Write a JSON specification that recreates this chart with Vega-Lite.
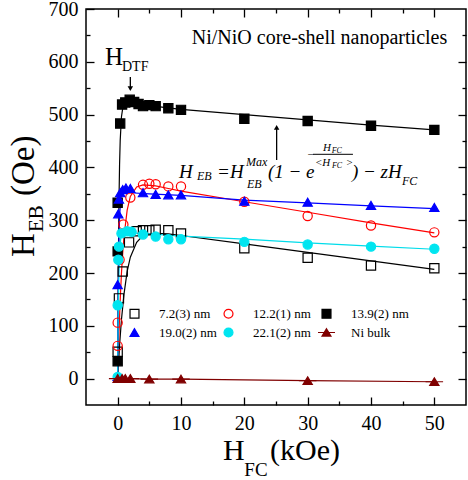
{
  "$schema": "https://vega.github.io/schema/vega-lite/v6.json",
  "width": 380,
  "height": 396,
  "autosize": {"type": "none"},
  "padding": {"left": 86, "top": 9, "right": 2, "bottom": 75},
  "background": "white",
  "config": {
    "view": {"stroke": "black", "strokeWidth": 1.5},
    "font": "Liberation Serif",
    "axis": {"domain": false, "grid": false, "labelFont": "Liberation Serif", "labelFontSize": 20, "labelColor": "black", "tickColor": "black", "tickWidth": 1.3},
    "legend": {"orient": "none", "legendX": 42, "legendY": 298, "direction": "horizontal", "columns": 3, "gridAlign": "each", "symbolSize": 80, "symbolStrokeWidth": 1.2, "labelFont": "Liberation Serif", "labelFontSize": 13, "labelColor": "black", "labelOffset": 18, "columnPadding": 4, "rowPadding": 4, "padding": 0}
  },
  "datasets": {
    "pts": [
      {"series": "7.2(3) nm", "x": 0, "y": 51}, {"series": "7.2(3) nm", "x": 0.2, "y": 152}, {"series": "7.2(3) nm", "x": 0.8, "y": 203}, {"series": "7.2(3) nm", "x": 1.8, "y": 258}, {"series": "7.2(3) nm", "x": 3, "y": 279}, {"series": "7.2(3) nm", "x": 4, "y": 281}, {"series": "7.2(3) nm", "x": 5, "y": 281}, {"series": "7.2(3) nm", "x": 6, "y": 282}, {"series": "7.2(3) nm", "x": 8, "y": 281}, {"series": "7.2(3) nm", "x": 10, "y": 275}, {"series": "7.2(3) nm", "x": 20, "y": 247}, {"series": "7.2(3) nm", "x": 30, "y": 229}, {"series": "7.2(3) nm", "x": 40, "y": 214}, {"series": "7.2(3) nm", "x": 50, "y": 209},
      {"series": "12.2(1) nm", "x": 0, "y": 62}, {"series": "12.2(1) nm", "x": 0, "y": 106}, {"series": "12.2(1) nm", "x": 0.3, "y": 225}, {"series": "12.2(1) nm", "x": 0.9, "y": 292}, {"series": "12.2(1) nm", "x": 2, "y": 343}, {"series": "12.2(1) nm", "x": 4, "y": 367}, {"series": "12.2(1) nm", "x": 5, "y": 369}, {"series": "12.2(1) nm", "x": 6, "y": 368}, {"series": "12.2(1) nm", "x": 8, "y": 364}, {"series": "12.2(1) nm", "x": 10, "y": 364}, {"series": "12.2(1) nm", "x": 20, "y": 335}, {"series": "12.2(1) nm", "x": 30, "y": 308}, {"series": "12.2(1) nm", "x": 40, "y": 290}, {"series": "12.2(1) nm", "x": 50, "y": 277},
      {"series": "13.9(2) nm", "x": 0, "y": 33}, {"series": "13.9(2) nm", "x": 0, "y": 241}, {"series": "13.9(2) nm", "x": 0, "y": 333}, {"series": "13.9(2) nm", "x": 0.4, "y": 483}, {"series": "13.9(2) nm", "x": 0.7, "y": 519}, {"series": "13.9(2) nm", "x": 1.2, "y": 523}, {"series": "13.9(2) nm", "x": 1.9, "y": 528}, {"series": "13.9(2) nm", "x": 2.6, "y": 524}, {"series": "13.9(2) nm", "x": 3.3, "y": 520}, {"series": "13.9(2) nm", "x": 4, "y": 516}, {"series": "13.9(2) nm", "x": 5, "y": 518}, {"series": "13.9(2) nm", "x": 6, "y": 516}, {"series": "13.9(2) nm", "x": 8, "y": 512}, {"series": "13.9(2) nm", "x": 10, "y": 509}, {"series": "13.9(2) nm", "x": 20, "y": 492}, {"series": "13.9(2) nm", "x": 30, "y": 488}, {"series": "13.9(2) nm", "x": 40, "y": 479}, {"series": "13.9(2) nm", "x": 50, "y": 471},
      {"series": "19.0(2) nm", "x": 0, "y": 4}, {"series": "19.0(2) nm", "x": 0, "y": 178}, {"series": "19.0(2) nm", "x": 0.1, "y": 312}, {"series": "19.0(2) nm", "x": 0.2, "y": 340}, {"series": "19.0(2) nm", "x": 0.4, "y": 352}, {"series": "19.0(2) nm", "x": 0.8, "y": 358}, {"series": "19.0(2) nm", "x": 1.3, "y": 361}, {"series": "19.0(2) nm", "x": 2, "y": 360}, {"series": "19.0(2) nm", "x": 4, "y": 352}, {"series": "19.0(2) nm", "x": 6, "y": 349}, {"series": "19.0(2) nm", "x": 8, "y": 348}, {"series": "19.0(2) nm", "x": 10, "y": 348}, {"series": "19.0(2) nm", "x": 20, "y": 336}, {"series": "19.0(2) nm", "x": 30, "y": 334}, {"series": "19.0(2) nm", "x": 40, "y": 328}, {"series": "19.0(2) nm", "x": 50, "y": 324},
      {"series": "22.1(2) nm", "x": 0, "y": 3}, {"series": "22.1(2) nm", "x": 0, "y": 139}, {"series": "22.1(2) nm", "x": 0.1, "y": 225}, {"series": "22.1(2) nm", "x": 0.2, "y": 250}, {"series": "22.1(2) nm", "x": 0.6, "y": 275}, {"series": "22.1(2) nm", "x": 1.5, "y": 279}, {"series": "22.1(2) nm", "x": 2.2, "y": 278}, {"series": "22.1(2) nm", "x": 4, "y": 273}, {"series": "22.1(2) nm", "x": 6, "y": 269}, {"series": "22.1(2) nm", "x": 8, "y": 264}, {"series": "22.1(2) nm", "x": 10, "y": 264}, {"series": "22.1(2) nm", "x": 20, "y": 259}, {"series": "22.1(2) nm", "x": 30, "y": 254}, {"series": "22.1(2) nm", "x": 40, "y": 250}, {"series": "22.1(2) nm", "x": 50, "y": 246},
      {"series": "Ni bulk", "x": 0, "y": 0}, {"series": "Ni bulk", "x": 0.7, "y": 0}, {"series": "Ni bulk", "x": 1.2, "y": 0}, {"series": "Ni bulk", "x": 2, "y": 0}, {"series": "Ni bulk", "x": 5, "y": -1}, {"series": "Ni bulk", "x": 10, "y": -1}, {"series": "Ni bulk", "x": 30, "y": -4}, {"series": "Ni bulk", "x": 50, "y": -6}
    ],
    "fits": [
      {"fit": "f72", "x": 0, "y": 0}, {"fit": "f72", "x": 0.3, "y": 63}, {"fit": "f72", "x": 0.6, "y": 112}, {"fit": "f72", "x": 1, "y": 160}, {"fit": "f72", "x": 1.5, "y": 203}, {"fit": "f72", "x": 2, "y": 230}, {"fit": "f72", "x": 3, "y": 258}, {"fit": "f72", "x": 4, "y": 271}, {"fit": "f72", "x": 5, "y": 274}, {"fit": "f72", "x": 6, "y": 275}, {"fit": "f72", "x": 8, "y": 274}, {"fit": "f72", "x": 10, "y": 271}, {"fit": "f72", "x": 20, "y": 255}, {"fit": "f72", "x": 30, "y": 239}, {"fit": "f72", "x": 40, "y": 223}, {"fit": "f72", "x": 50, "y": 207},
      {"fit": "f122", "x": 0, "y": 0}, {"fit": "f122", "x": 0.2, "y": 84}, {"fit": "f122", "x": 0.4, "y": 149}, {"fit": "f122", "x": 0.6, "y": 200}, {"fit": "f122", "x": 0.8, "y": 238}, {"fit": "f122", "x": 1, "y": 269}, {"fit": "f122", "x": 1.5, "y": 319}, {"fit": "f122", "x": 2, "y": 345}, {"fit": "f122", "x": 3, "y": 363}, {"fit": "f122", "x": 4, "y": 367}, {"fit": "f122", "x": 5, "y": 366}, {"fit": "f122", "x": 6, "y": 365}, {"fit": "f122", "x": 8, "y": 360}, {"fit": "f122", "x": 10, "y": 355}, {"fit": "f122", "x": 20, "y": 335}, {"fit": "f122", "x": 30, "y": 315}, {"fit": "f122", "x": 40, "y": 295}, {"fit": "f122", "x": 50, "y": 276},
      {"fit": "f139", "x": 0, "y": 0}, {"fit": "f139", "x": 0.05, "y": 115}, {"fit": "f139", "x": 0.1, "y": 205}, {"fit": "f139", "x": 0.2, "y": 330}, {"fit": "f139", "x": 0.3, "y": 405}, {"fit": "f139", "x": 0.4, "y": 451}, {"fit": "f139", "x": 0.6, "y": 496}, {"fit": "f139", "x": 0.8, "y": 512}, {"fit": "f139", "x": 1, "y": 518}, {"fit": "f139", "x": 1.5, "y": 521}, {"fit": "f139", "x": 2, "y": 521}, {"fit": "f139", "x": 5, "y": 517}, {"fit": "f139", "x": 10, "y": 510}, {"fit": "f139", "x": 20, "y": 500}, {"fit": "f139", "x": 30, "y": 490}, {"fit": "f139", "x": 40, "y": 480}, {"fit": "f139", "x": 50, "y": 471},
      {"fit": "f190", "x": 0, "y": 0}, {"fit": "f190", "x": 0.05, "y": 100}, {"fit": "f190", "x": 0.1, "y": 172}, {"fit": "f190", "x": 0.2, "y": 258}, {"fit": "f190", "x": 0.3, "y": 305}, {"fit": "f190", "x": 0.5, "y": 343}, {"fit": "f190", "x": 1, "y": 352}, {"fit": "f190", "x": 2, "y": 352}, {"fit": "f190", "x": 5, "y": 350}, {"fit": "f190", "x": 10, "y": 347}, {"fit": "f190", "x": 20, "y": 338}, {"fit": "f190", "x": 30, "y": 333}, {"fit": "f190", "x": 40, "y": 327}, {"fit": "f190", "x": 50, "y": 322},
      {"fit": "f221", "x": 0, "y": 0}, {"fit": "f221", "x": 0.05, "y": 79}, {"fit": "f221", "x": 0.1, "y": 136}, {"fit": "f221", "x": 0.2, "y": 201}, {"fit": "f221", "x": 0.3, "y": 239}, {"fit": "f221", "x": 0.5, "y": 268}, {"fit": "f221", "x": 1, "y": 276}, {"fit": "f221", "x": 2, "y": 276}, {"fit": "f221", "x": 5, "y": 274}, {"fit": "f221", "x": 10, "y": 270}, {"fit": "f221", "x": 20, "y": 264}, {"fit": "f221", "x": 30, "y": 257}, {"fit": "f221", "x": 40, "y": 251}, {"fit": "f221", "x": 50, "y": 245},
      {"fit": "ni", "x": 0, "y": 0}, {"fit": "ni", "x": 0.7, "y": 0}, {"fit": "ni", "x": 1.2, "y": 0}, {"fit": "ni", "x": 2, "y": 0}, {"fit": "ni", "x": 5, "y": -1}, {"fit": "ni", "x": 10, "y": -1}, {"fit": "ni", "x": 30, "y": -4}, {"fit": "ni", "x": 50, "y": -6}
    ]
  },
  "layer": [
    {
      "data": {"name": "fits"},
      "mark": {"type": "line", "strokeWidth": 1.2, "clip": true},
      "encoding": {
        "x": {"field": "x", "type": "quantitative", "scale": {"domain": [-5, 55], "nice": false, "zero": false}, "axis": {"orient": "top", "values": [0, 10, 20, 30, 40, 50], "labels": false, "tickSize": -8, "title": null}},
        "y": {"field": "y", "type": "quantitative", "scale": {"domain": [-50, 700], "nice": false, "zero": false}, "axis": {"orient": "right", "values": [0, 100, 200, 300, 400, 500, 600], "labels": false, "tickSize": -8, "title": null}},
        "color": {"field": "fit", "type": "nominal", "scale": {"domain": ["f72", "f122", "f139", "f190", "f221", "ni"], "range": ["#000000", "#ff0000", "#000000", "#0000ff", "#00dcea", "#800000"]}, "legend": null}
      }
    },
    {
      "data": {"name": "pts"},
      "mark": {"type": "point", "size": 85, "strokeWidth": 1.2, "opacity": 1},
      "encoding": {
        "x": {"field": "x", "type": "quantitative", "scale": {"domain": [-5, 55], "nice": false, "zero": false}, "axis": {"orient": "bottom", "values": [0, 10, 20, 30, 40, 50], "tickSize": -8, "labelPadding": 16, "title": null}},
        "y": {"field": "y", "type": "quantitative", "scale": {"domain": [-50, 700], "nice": false, "zero": false}, "axis": {"orient": "left", "values": [0, 100, 200, 300, 400, 500, 600, 700], "tickSize": -8, "labelPadding": 16, "title": null}},
        "shape": {"field": "series", "type": "nominal", "scale": {"domain": ["7.2(3) nm", "12.2(1) nm", "13.9(2) nm", "19.0(2) nm", "22.1(2) nm", "Ni bulk"], "range": ["square", "circle", "square", "triangle-up", "circle", "M-1.9,0H1.9M0,-0.85L1,0.8H-1Z"]}, "legend": {"title": null}},
        "fill": {"field": "series", "type": "nominal", "scale": {"domain": ["7.2(3) nm", "12.2(1) nm", "13.9(2) nm", "19.0(2) nm", "22.1(2) nm", "Ni bulk"], "range": ["transparent", "transparent", "#000000", "#0000ff", "#00e5f0", "#800000"]}, "legend": {"title": null}},
        "stroke": {"field": "series", "type": "nominal", "scale": {"domain": ["7.2(3) nm", "12.2(1) nm", "13.9(2) nm", "19.0(2) nm", "22.1(2) nm", "Ni bulk"], "range": ["#000000", "#ff0000", "#000000", "#0000ff", "#00e5f0", "#800000"]}, "legend": {"title": null}}
      }
    },
    {
      "data": {"values": [{"x": 2.0, "y": 571, "y2": 548}, {"x": 25.1, "y": 414, "y2": 476}]},
      "mark": {"type": "rule", "strokeWidth": 1.3, "color": "black"},
      "encoding": {
        "x": {"field": "x", "type": "quantitative", "scale": {"domain": [-5, 55], "nice": false, "zero": false}, "axis": {"orient": "bottom", "values": [5, 15, 25, 35, 45], "labels": false, "tickSize": -4, "title": null}},
        "y": {"field": "y", "type": "quantitative", "scale": {"domain": [-50, 700], "nice": false, "zero": false}, "axis": {"orient": "left", "values": [50, 150, 250, 350, 450, 550, 650], "labels": false, "tickSize": -4, "title": null}},
        "y2": {"field": "y2"}
      }
    },
    {
      "data": {"values": [{"x": 11.7, "y": 633.7, "t": "Ni/NiO core-shell nanoparticles"}]},
      "mark": {"type": "text", "fontSize": 20, "align": "left", "baseline": "alphabetic", "color": "black", "font": "Liberation Serif"},
      "encoding": {
        "x": {"field": "x", "type": "quantitative", "scale": {"domain": [-5, 55], "nice": false, "zero": false}, "axis": {"orient": "top", "values": [5, 15, 25, 35, 45], "labels": false, "tickSize": -4, "title": null}},
        "y": {"field": "y", "type": "quantitative", "scale": {"domain": [-50, 700], "nice": false, "zero": false}, "axis": {"orient": "right", "values": [50, 150, 250, 350, 450, 550, 650], "labels": false, "tickSize": -4, "title": null}},
        "text": {"field": "t"}
      }
    },
    {
      "data": {"values": [{"x": 2.0, "y": 549}]},
      "mark": {"type": "point", "shape": "triangle-down", "filled": true, "size": 30, "color": "black", "opacity": 1},
      "encoding": {"x": {"field": "x", "type": "quantitative", "axis": null}, "y": {"field": "y", "type": "quantitative", "axis": null}}
    },
    {
      "data": {"values": [{"x": 25.1, "y": 476}]},
      "mark": {"type": "point", "shape": "triangle-up", "filled": true, "size": 30, "color": "black", "opacity": 1},
      "encoding": {"x": {"field": "x", "type": "quantitative", "axis": null}, "y": {"field": "y", "type": "quantitative", "axis": null}}
    },
    {
      "data": {"values": [{"x": 30.83, "x2": 37.15, "y": 424.8}]},
      "mark": {"type": "rule", "strokeWidth": 1, "color": "black"},
      "encoding": {"x": {"field": "x", "type": "quantitative", "axis": null}, "x2": {"field": "x2"}, "y": {"field": "y", "type": "quantitative", "axis": null}}
    },
    {
      "data": {"values": [{"x": -2.0, "y": 594, "t": "H"}]},
      "mark": {"type": "text", "fontSize": 25, "align": "left", "baseline": "alphabetic", "color": "black", "font": "Liberation Serif"},
      "encoding": {"x": {"field": "x", "type": "quantitative", "axis": null}, "y": {"field": "y", "type": "quantitative", "axis": null}, "text": {"field": "t"}}
    },
    {
      "data": {"values": [{"x": 0.68, "y": 582.6, "t": "DTF"}]},
      "mark": {"type": "text", "fontSize": 14, "align": "left", "baseline": "alphabetic", "color": "black", "font": "Liberation Serif"},
      "encoding": {"x": {"field": "x", "type": "quantitative", "axis": null}, "y": {"field": "y", "type": "quantitative", "axis": null}, "text": {"field": "t"}}
    },
    {
      "data": {"values": [{"x": 9.68, "y": 379.9, "t": "H"}, {"x": 15.68, "y": 379.9, "t": "="}, {"x": 17.73, "y": 379.9, "t": "H"}, {"x": 23.73, "y": 379.9, "t": "(1 − e"}, {"x": 36.99, "y": 379.9, "t": ") − zH"}]},
      "mark": {"type": "text", "fontSize": 19, "fontStyle": "italic", "align": "left", "baseline": "alphabetic", "color": "black", "font": "Liberation Serif"},
      "encoding": {"x": {"field": "x", "type": "quantitative", "axis": null}, "y": {"field": "y", "type": "quantitative", "axis": null}, "text": {"field": "t"}}
    },
    {
      "data": {"values": [{"x": 12.52, "y": 376.1, "t": "EB"}, {"x": 20.26, "y": 402.7, "t": "Max"}, {"x": 20.42, "y": 361.0, "t": "EB"}, {"x": 44.9, "y": 366.3, "t": "FC"}]},
      "mark": {"type": "text", "fontSize": 12, "fontStyle": "italic", "align": "left", "baseline": "alphabetic", "color": "black", "font": "Liberation Serif"},
      "encoding": {"x": {"field": "x", "type": "quantitative", "axis": null}, "y": {"field": "y", "type": "quantitative", "axis": null}, "text": {"field": "t"}}
    },
    {
      "data": {"values": [{"x": 29.89, "y": 417.8, "t": "−"}, {"x": 32.41, "y": 431.1, "t": "H"}, {"x": 31.15, "y": 402.7, "t": "<H"}, {"x": 36.0, "y": 402.7, "t": ">"}]},
      "mark": {"type": "text", "fontSize": 11, "fontStyle": "italic", "align": "left", "baseline": "alphabetic", "color": "black", "font": "Liberation Serif"},
      "encoding": {"x": {"field": "x", "type": "quantitative", "axis": null}, "y": {"field": "y", "type": "quantitative", "axis": null}, "text": {"field": "t"}}
    },
    {
      "data": {"values": [{"x": 33.8, "y": 427.3, "t": "FC"}, {"x": 33.84, "y": 398.9, "t": "FC"}]},
      "mark": {"type": "text", "fontSize": 8, "fontStyle": "italic", "align": "left", "baseline": "alphabetic", "color": "black", "font": "Liberation Serif"},
      "encoding": {"x": {"field": "x", "type": "quantitative", "axis": null}, "y": {"field": "y", "type": "quantitative", "axis": null}, "text": {"field": "t"}}
    },
    {
      "data": {"values": [{"x": 16.63, "y": -154.2, "t": "H"}, {"x": 24.05, "y": -154.2, "t": "(kOe)"}]},
      "mark": {"type": "text", "fontSize": 30, "align": "left", "baseline": "alphabetic", "color": "black", "font": "Liberation Serif", "clip": false},
      "encoding": {"x": {"field": "x", "type": "quantitative", "axis": null}, "y": {"field": "y", "type": "quantitative", "axis": null}, "text": {"field": "t"}}
    },
    {
      "data": {"values": [{"x": 20.0, "y": -184.5, "t": "FC"}]},
      "mark": {"type": "text", "fontSize": 19, "align": "left", "baseline": "alphabetic", "color": "black", "font": "Liberation Serif", "clip": false},
      "encoding": {"x": {"field": "x", "type": "quantitative", "axis": null}, "y": {"field": "y", "type": "quantitative", "axis": null}, "text": {"field": "t"}}
    },
    {
      "data": {"values": [{"x": -13.2, "y": 230.3, "t": "H"}, {"x": -13.2, "y": 345.8, "t": "(Oe)"}]},
      "mark": {"type": "text", "fontSize": 33, "angle": 270, "align": "left", "baseline": "alphabetic", "color": "black", "font": "Liberation Serif", "clip": false},
      "encoding": {"x": {"field": "x", "type": "quantitative", "axis": null}, "y": {"field": "y", "type": "quantitative", "axis": null}, "text": {"field": "t"}}
    },
    {
      "data": {"values": [{"x": -11.8, "y": 277.7, "t": "EB"}]},
      "mark": {"type": "text", "fontSize": 21, "angle": 270, "align": "left", "baseline": "alphabetic", "color": "black", "font": "Liberation Serif", "clip": false},
      "encoding": {"x": {"field": "x", "type": "quantitative", "axis": null}, "y": {"field": "y", "type": "quantitative", "axis": null}, "text": {"field": "t"}}
    }
  ],
  "resolve": {"axis": {"x": "independent", "y": "independent"}}
}
